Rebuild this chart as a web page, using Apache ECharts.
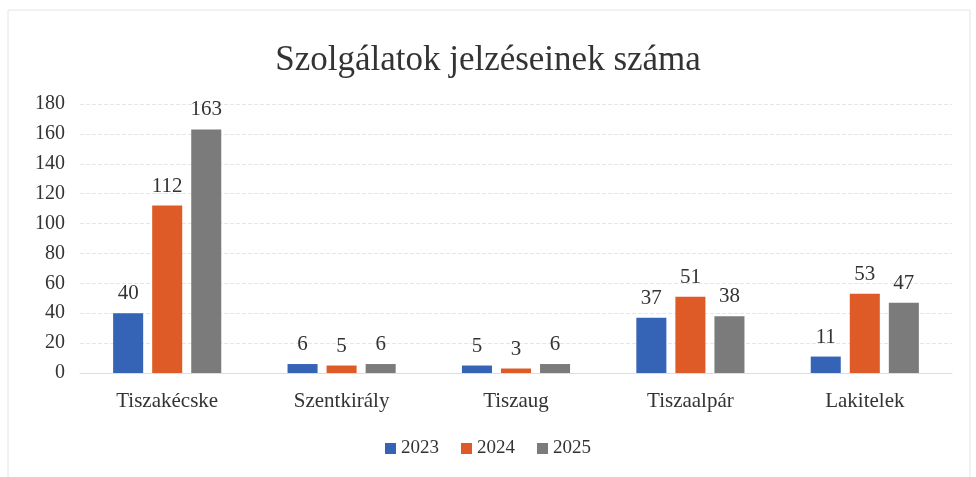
<!DOCTYPE html>
<html>
<head>
<meta charset="utf-8">
<script src="https://cdn.jsdelivr.net/npm/echarts@6/dist/echarts.min.js"></script>
<style>
  html, body { margin: 0; padding: 0; background: #fff; }
  #chart { width: 976px; height: 477px; }
</style>
</head>
<body>
<div id="chart"></div>
<script>
const categories = ['Tiszakécske', 'Szentkirály', 'Tiszaug', 'Tiszaalpár', 'Lakitelek'];
const years = ['2023', '2024', '2025'];
const values2023 = [40, 6, 5, 37, 11];
const values2024 = [112, 5, 3, 51, 53];
const values2025 = [163, 6, 6, 38, 47];
const colors = ['#3563b5', '#de5a26', '#7b7b7b'];

const seriesValues = [values2023, values2024, values2025];
const font = '"Liberation Serif", "DejaVu Serif", serif';

let myChart = echarts.init(document.getElementById('chart'));
myChart.setOption({
  textStyle: { fontFamily: font },
  graphic: [{
    type: 'rect',
    shape: { x: 8, y: 10, width: 962, height: 470 },
    style: { fill: 'none', stroke: '#e4e4e4', lineWidth: 1 },
    silent: true
  }],
  title: {
    text: 'Szolgálatok jelzéseinek száma',
    left: 'center',
    top: 38,
    textStyle: { fontFamily: font, fontSize: 35, fontWeight: 'normal', color: '#333' }
  },
  legend: {
    bottom: 14,
    left: 'center',
    itemWidth: 11,
    itemHeight: 11,
    itemGap: 22,
    icon: 'rect',
    textStyle: { fontFamily: font, fontSize: 19, color: '#333' },
    data: years
  },
  grid: { left: 80, right: 24, top: 104, bottom: 104 },
  xAxis: {
    type: 'category',
    data: categories,
    axisTick: { show: false },
    axisLine: { lineStyle: { color: '#ddd' } },
    axisLabel: { fontFamily: font, fontSize: 21, color: '#333', margin: 18 }
  },
  yAxis: {
    type: 'value',
    min: 0,
    max: 180,
    interval: 20,
    axisLine: { show: false },
    axisTick: { show: false },
    axisLabel: { fontFamily: font, fontSize: 20, color: '#333', margin: 15 },
    splitLine: { lineStyle: { color: '#e6e6e6', type: 'dashed' } }
  },
  series: years.map(function (y, i) {
    return {
      name: y,
      type: 'bar',
      data: seriesValues[i],
      barGap: '30%',
      barCategoryGap: '38%',
      itemStyle: { color: colors[i] },
      label: {
        show: true,
        position: 'top',
        distance: 9,
        fontFamily: font,
        fontSize: 21,
        color: '#333'
      }
    };
  })
});
</script>
</body>
</html>
